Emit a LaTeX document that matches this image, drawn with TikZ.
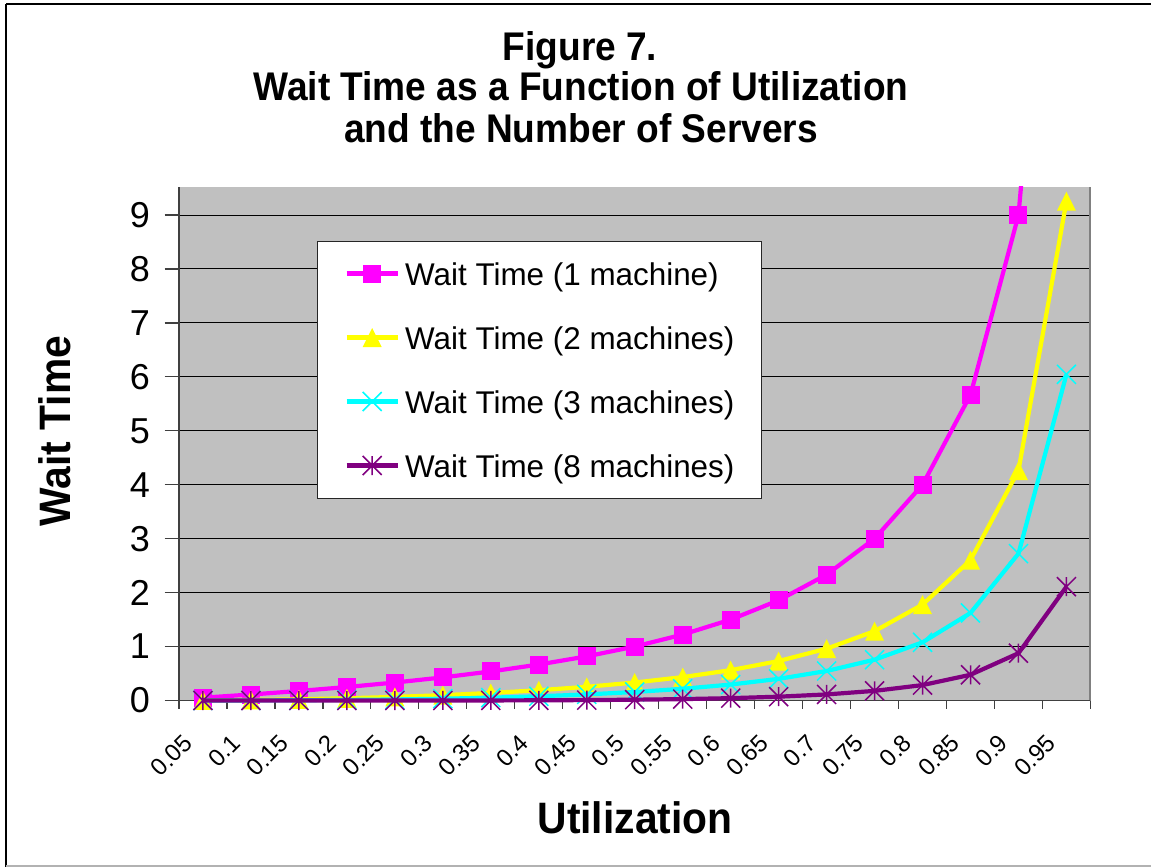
\documentclass[tikz,border=0pt]{standalone}
\usepackage{fontspec}
\setmainfont{Liberation Sans}
\usepackage{graphicx}
\usetikzlibrary{calc}

\definecolor{plotgray}{HTML}{C0C0C0}
\definecolor{frameline}{HTML}{808080}
\definecolor{sone}{HTML}{FF00FF}
\definecolor{stwo}{HTML}{FFFF00}
\definecolor{sthree}{HTML}{00FFFF}
\definecolor{seight}{HTML}{800080}

\newcommand\fsz[1]{\fontsize{#1pt}{#1pt}\selectfont}
\newcommand\boldtxt[2]{\fsz{#1}\bfseries\scalebox{0.927}[1]{#2}}

\tikzset{
  sqmark/.pic={\fill[sone] (-9pt,-9pt) rectangle (9pt,9pt);},
  trimark/.pic={\fill[stwo] (-9.5pt,-9.5pt) -- (9.5pt,-9.5pt) -- (0,9.5pt) -- cycle;},
  xmark/.pic={\draw[sthree, line width=1.5pt] (-9.5pt,-9.5pt) -- (9.5pt,9.5pt) (-9.5pt,9.5pt) -- (9.5pt,-9.5pt);},
  starmark/.pic={\draw[seight, line width=1.5pt] (-9.5pt,-9.5pt) -- (9.5pt,9.5pt) (-9.5pt,9.5pt) -- (9.5pt,-9.5pt) (0,-9.5pt) -- (0,9.5pt);},
  series/.style={line width=4.2pt, line join=round},
  grid line/.style={black, line width=1pt},
  axis line/.style={black!75, line width=1.2pt},
  tick label/.style={inner sep=0pt},
}

\begin{document}
\begin{tikzpicture}[x=1pt, y=-1pt]
  \useasboundingbox (0,0) rectangle (1151,867);

  % chart frame
  \draw[black, line width=2pt] (6,4.5) -- (1151,4.5);
  \draw[black, line width=2pt] (6,4.5) -- (6,867);
  \draw[black!30, line width=1.5pt] (6,866) -- (1151,866);

  % title
  \node (t1) [anchor=base] at (580,61) {\boldtxt{40}{Figure 7.}};
  \node (t2) [anchor=base] at (581,100) {\boldtxt{40}{Wait Time as a Function of Utilization}};
  \node (t3) [anchor=base] at (581,142) {\boldtxt{40}{and the Number of Servers}};

  % axis titles
  \node (ytitle) [anchor=base, rotate=90] at (70,431) {\boldtxt{44}{Wait Time}};
  \node (xtitle) [anchor=base] at (635,833) {\boldtxt{44}{Utilization}};

  % data region: one unit per category across, one unit per wait-time unit up
  \begin{scope}[shift={(179,700.5)}, x=47.97pt, y=53.94pt]
    \fill[plotgray] (0,0) rectangle (19,9.52);
    \foreach \g in {1,...,9} \draw[grid line] (0,\g) -- (19,\g);
    \draw[frameline, line width=2pt] (19,0) -- (19,9.52);
    % axes and ticks
    \draw[axis line] (0,-0.15) -- (0,9.52);
    \draw[axis line] (-0.3,0) -- (19,0);
    \foreach \g in {1,...,9} \draw[axis line] (-0.3,\g) -- (0,\g);
    \foreach \k in {0,...,19} \draw[axis line] (\k,0) -- (\k,-0.15);
    % y tick labels
    \foreach \g in {0,...,9} \node[tick label, anchor=east] at (-0.6,\g) {\fsz{36}\g};
    % x tick labels
    \foreach \lab [count=\i] in {0.05,0.1,0.15,0.2,0.25,0.3,0.35,0.4,0.45,0.5,0.55,0.6,0.65,0.7,0.75,0.8,0.85,0.9,0.95}
      \node[tick label, rotate=45, anchor=north east] at ($(\i-0.5,0)+(-21pt,-32pt)$) {\fsz{24}\lab};

    \begin{scope}
      \clip (-1,-1) rectangle (20,9.52);
      % 1 machine
      \draw[series, sone] plot coordinates {(0.5,0.0526) (1.5,0.1111) (2.5,0.1765) (3.5,0.25) (4.5,0.3333) (5.5,0.4286) (6.5,0.5385) (7.5,0.6667) (8.5,0.8182) (9.5,1) (10.5,1.2222) (11.5,1.5) (12.5,1.8571) (13.5,2.3333) (14.5,3) (15.5,4) (16.5,5.6667) (17.5,9) (18.5,19)};
      \foreach \v [count=\i] in {0.0526,0.1111,0.1765,0.25,0.3333,0.4286,0.5385,0.6667,0.8182,1,1.2222,1.5,1.8571,2.3333,3,4,5.6667,9}
        \pic at (\i-0.5,\v) {sqmark};
      % 2 machines
      \draw[series, stwo] plot coordinates {(0.5,0.0025) (1.5,0.0101) (2.5,0.0230) (3.5,0.0417) (4.5,0.0667) (5.5,0.0989) (6.5,0.1396) (7.5,0.1905) (8.5,0.2539) (9.5,0.3333) (10.5,0.4337) (11.5,0.5625) (12.5,0.7316) (13.5,0.9608) (14.5,1.2857) (15.5,1.7778) (16.5,2.6036) (17.5,4.2632) (18.5,9.2564)};
      \foreach \v [count=\i] in {0.0025,0.0101,0.0230,0.0417,0.0667,0.0989,0.1396,0.1905,0.2539,0.3333,0.4337,0.5625,0.7316,0.9608,1.2857,1.7778,2.6036,4.2632,9.2564}
        \pic at (\i-0.5,\v) {trimark};
      % 3 machines
      \draw[series, sthree] plot coordinates {(0.5,0.0002) (1.5,0.0014) (2.5,0.0045) (3.5,0.0103) (4.5,0.0196) (5.5,0.0333) (6.5,0.0525) (7.5,0.0784) (8.5,0.1128) (9.5,0.1579) (10.5,0.2172) (11.5,0.2956) (12.5,0.4012) (13.5,0.5470) (14.5,0.7570) (15.5,1.0787) (16.5,1.6231) (17.5,2.7235) (18.5,6.0467)};
      \foreach \v [count=\i] in {0.0002,0.0014,0.0045,0.0103,0.0196,0.0333,0.0525,0.0784,0.1128,0.1579,0.2172,0.2956,0.4012,0.5470,0.7570,1.0787,1.6231,2.7235,6.0467}
        \pic at (\i-0.5,\v) {xmark};
      % 8 machines
      \draw[series, seight] plot coordinates {(0.5,0) (1.5,0) (2.5,0) (3.5,0) (4.5,0.0001) (5.5,0.0005) (6.5,0.0014) (7.5,0.0036) (8.5,0.0078) (9.5,0.0148) (10.5,0.0260) (11.5,0.0436) (12.5,0.0708) (13.5,0.1128) (14.5,0.1785) (15.5,0.2860) (16.5,0.4771) (17.5,0.8769) (18.5,2.1100)};
      \foreach \v [count=\i] in {0,0,0,0,0.0001,0.0005,0.0014,0.0036,0.0078,0.0148,0.0260,0.0436,0.0708,0.1128,0.1785,0.2860,0.4771,0.8769,2.1100}
        \pic at (\i-0.5,\v) {starmark};
    \end{scope}
  \end{scope}

  % legend
  \node (legend) [draw=black!85, line width=1pt, fill=white, minimum width=444pt, minimum height=257pt, anchor=north west, inner sep=0pt] at (316.7,241) {};
  \foreach \y/\lab/\col/\mk in {273.5/{Wait Time (1 machine)}/sone/sqmark, 337.5/{Wait Time (2 machines)}/stwo/trimark, 401.5/{Wait Time (3 machines)}/sthree/xmark, 465.5/{Wait Time (8 machines)}/seight/starmark} {
    \draw[\col, line width=4.2pt] (346.7,\y) -- (397.7,\y);
    \pic at (372.2,\y) {\mk};
    \node[anchor=base west, inner sep=0pt] at (405,\y+11.5) {\fsz{31.4}\lab};
  }
\end{tikzpicture}
\end{document}
